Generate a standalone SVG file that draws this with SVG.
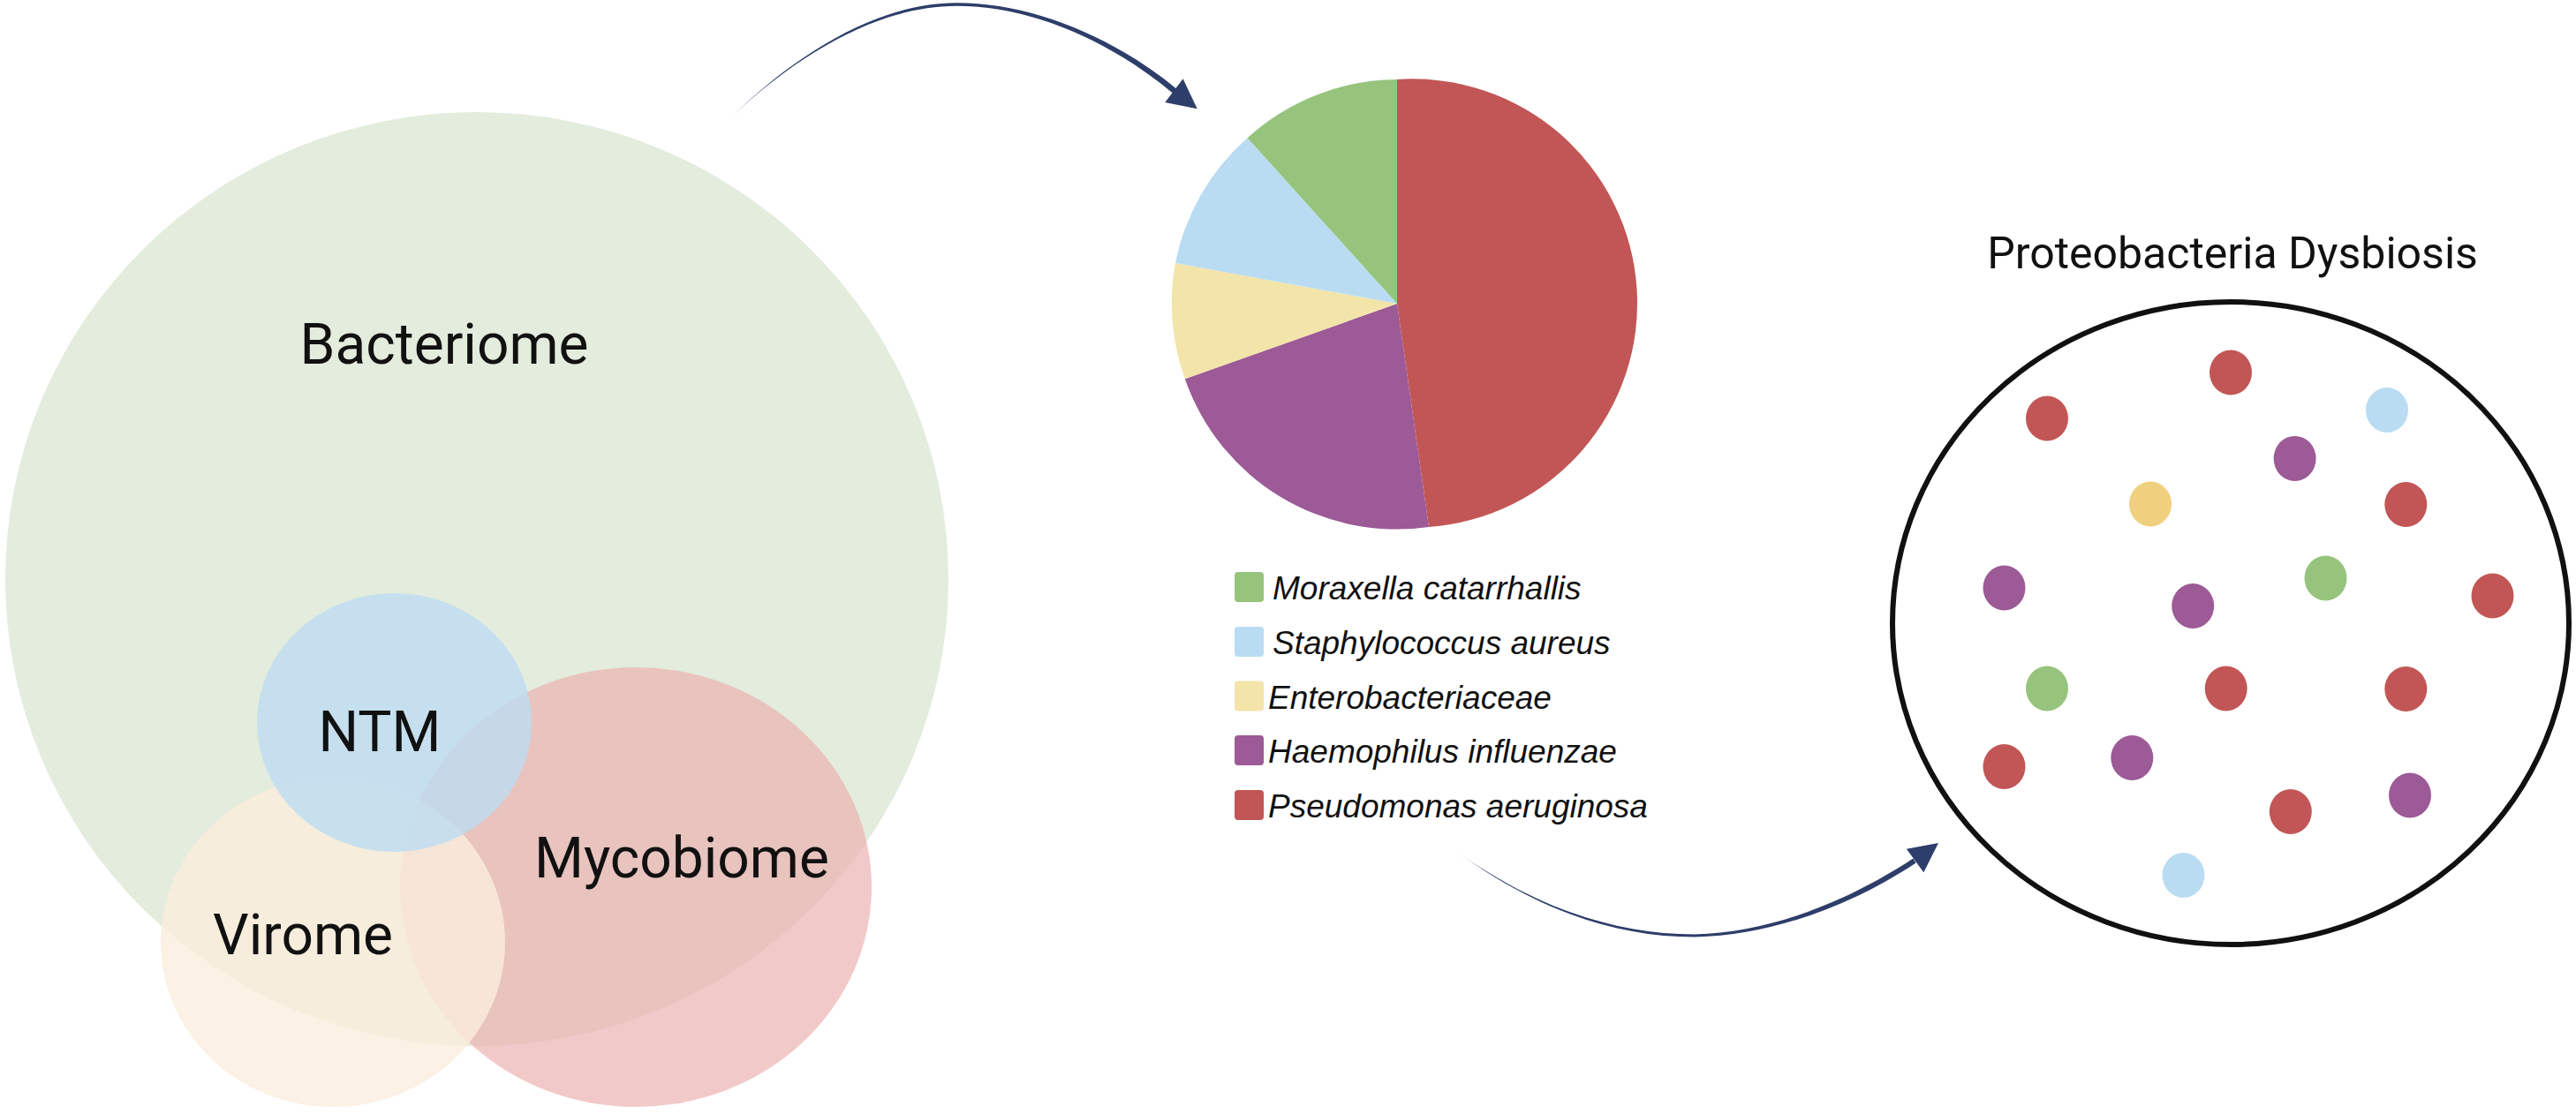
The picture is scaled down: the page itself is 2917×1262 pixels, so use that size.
<svg xmlns="http://www.w3.org/2000/svg" width="2917" height="1262" viewBox="0 0 2917 1262">
<style>
  .lbl { font-family: Roboto, "Liberation Sans", sans-serif; font-size: 64px; fill: #111; text-anchor: middle; }
  .title { font-family: Roboto, "Liberation Sans", sans-serif; font-size: 50px; fill: #111; text-anchor: middle; }
  .leg { font-family: "Liberation Sans", Arial, sans-serif; font-size: 37px; font-style: italic; fill: #111; }
  .arrow { fill: #2e3e6a; }
  .red { fill: #c25656; }
  .pur { fill: #9c5a96; }
  .yel { fill: #f3e4aa; }
  .ydot { fill: #f0d07e; }
  .blu { fill: #badcf3; }
  .grn { fill: #96c47d; }
</style>
<rect width="2917" height="1262" fill="#ffffff"/>

<g id="node-bacteriome">
  <ellipse cx="540" cy="656" rx="534" ry="529" fill="#e3ecdd"/>
  <text class="lbl" x="503" y="412">Bacteriome</text>
</g>
<g id="node-mycobiome">
  <ellipse cx="720" cy="1005" rx="267" ry="249" fill="#ecb0b0" fill-opacity="0.68"/>
  <text class="lbl" x="772" y="994">Mycobiome</text>
</g>
<g id="node-virome">
  <ellipse cx="377" cy="1067.5" rx="195" ry="186.5" fill="#faeedd" fill-opacity="0.8"/>
  <text class="lbl" x="343" y="1081">Virome</text>
</g>
<g id="node-ntm">
  <ellipse cx="446.5" cy="818.5" rx="155.5" ry="146.5" fill="#bddcf2" fill-opacity="0.8"/>
  <text class="lbl" x="430" y="851">NTM</text>
</g>

<g id="node-pie">
  <path class="red" d="M1582 344 L1582 90 A254 254 0 0 1 1618 597 Z"/>
  <path class="pur" d="M1582 344 L1618 597 A254 254 0 0 1 1341.8 429.3 Z"/>
  <path class="yel" d="M1582 344 L1341.8 429.3 A254 254 0 0 1 1331 298 Z"/>
  <path class="blu" d="M1582 344 L1331 298 A254 254 0 0 1 1412.5 156.3 Z"/>
  <path class="grn" d="M1582 344 L1412.5 156.3 A254 254 0 0 1 1582 90 Z"/>
</g>

<g id="node-legend">
  <rect class="grn" x="1398" y="648" width="33" height="34" rx="4"/>
  <rect class="blu" x="1398" y="710" width="33" height="34" rx="4"/>
  <rect class="yel" x="1398" y="771.5" width="33" height="34" rx="4"/>
  <rect class="pur" x="1398" y="833" width="33" height="34" rx="4"/>
  <rect class="red" x="1398" y="895" width="33" height="34" rx="4"/>
  <text class="leg" x="1441" y="679">Moraxella catarrhallis</text>
  <text class="leg" x="1441" y="741">Staphylococcus aureus</text>
  <text class="leg" x="1436" y="802.5">Enterobacteriaceae</text>
  <text class="leg" x="1436" y="864">Haemophilus influenzae</text>
  <text class="leg" x="1436" y="925.5">Pseudomonas aeruginosa</text>
</g>

<g id="node-dysbiosis">
  <text class="title" x="2528" y="304">Proteobacteria Dysbiosis</text>
  <ellipse cx="2526" cy="706" rx="383" ry="364" fill="none" stroke="#111" stroke-width="6"/>
  <g>
    <ellipse class="red" cx="2526" cy="422" rx="24" ry="25.5"/>
    <ellipse class="red" cx="2318" cy="474" rx="24" ry="25.5"/>
    <ellipse class="blu" cx="2703" cy="464.5" rx="24" ry="25.5"/>
    <ellipse class="pur" cx="2598.6" cy="519.4" rx="24" ry="25.5"/>
    <ellipse class="ydot" cx="2435" cy="571" rx="24" ry="25.5"/>
    <ellipse class="red" cx="2724.3" cy="571.5" rx="24" ry="25.5"/>
    <ellipse class="pur" cx="2269.5" cy="666" rx="24" ry="25.5"/>
    <ellipse class="pur" cx="2483.2" cy="686.5" rx="24" ry="25.5"/>
    <ellipse class="grn" cx="2633.5" cy="655" rx="24" ry="25.5"/>
    <ellipse class="red" cx="2822.5" cy="675" rx="24" ry="25.5"/>
    <ellipse class="grn" cx="2318" cy="780" rx="24" ry="25.5"/>
    <ellipse class="red" cx="2520.7" cy="780" rx="24" ry="25.5"/>
    <ellipse class="red" cx="2724.3" cy="780.5" rx="24" ry="25.5"/>
    <ellipse class="red" cx="2269.5" cy="868.5" rx="24" ry="25.5"/>
    <ellipse class="pur" cx="2414.3" cy="858.5" rx="24" ry="25.5"/>
    <ellipse class="red" cx="2593.8" cy="919.5" rx="24" ry="25.5"/>
    <ellipse class="pur" cx="2729" cy="901" rx="24" ry="25.5"/>
    <ellipse class="blu" cx="2472.5" cy="991.5" rx="24" ry="25.5"/>
  </g>
</g>

<g id="connectors">
  <path class="arrow" d="M831 130 C910 54 1000 3.25 1083 3.25 C1171 3.25 1262 43 1332.1 100.5 L1327.9 105.5 C1258 47 1169 6.75 1083 6.75 C1000 6.75 910 56 831 130 Z"/>
  <polygon class="arrow" points="1355.7,123.3 1339.6,89.3 1319.3,116"/>
  <path class="arrow" d="M1650 965 C1740 1029 1830 1058.5 1919 1058.5 C2009 1056.5 2098 1017.5 2166.35 972.5 L2169.65 977.5 C2102 1022.5 2011 1059.5 1919 1061.5 C1830 1061.5 1740 1031 1650 965 Z"/>
  <polygon class="arrow" points="2195,955 2158.9,961.7 2178.3,988.3"/>
</g>
</svg>
